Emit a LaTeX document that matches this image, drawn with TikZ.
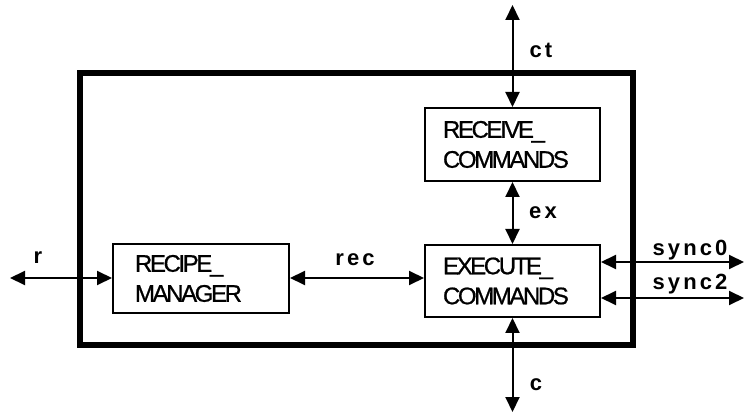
\documentclass[tikz,border=0pt]{standalone}
\usepackage{fontspec}
\setmainfont{Liberation Sans}
\newfontfamily\labelfont[LetterSpace=14]{Liberation Sans}
\newfontfamily\boxfont[LetterSpace=-10,FakeBold=0.8]{Liberation Sans}
\usetikzlibrary{arrows.meta}
\tikzset{
  blockbox/.style={draw, line width=2pt, text width=139pt, inner xsep=18pt, inner ysep=0pt,
    align=left, font=\boxfont\fontsize{24}{30}\selectfont},
  outerbox/.style={draw, line width=6pt},
  conn/.style={line width=2pt, {Triangle[length=15pt,width=14pt]}-{Triangle[length=15pt,width=14pt]}},
  lbl/.style={font=\labelfont\bfseries\fontsize{22}{26}\selectfont, inner sep=0pt}
}
\begin{document}
\begin{tikzpicture}[x=1pt,y=-1pt]
\useasboundingbox (0,0) rectangle (745,414);
\draw[outerbox] (80,73) rectangle (633,345);
\node[blockbox, minimum height=73pt] (recv) at (512.5,144.5) {RECEIVE\_\\COMMANDS};
\node[blockbox, minimum height=72pt] (exec) at (512.5,281) {EXECUTE\_\\COMMANDS};
\node[blockbox, minimum height=69pt, text width=132pt, inner xsep=22pt] (recipe) at (201,278.5) {RECIPE\_\\MANAGER};
\coordinate (ctend) at (512.5,5);
\coordinate (cend) at (512.5,412);
\coordinate (rend) at (10,278);
\coordinate (s0end) at (744,262);
\coordinate (s2end) at (744,298);
\draw[conn] (ctend) -- (recv.north);
\draw[conn] (recv.south) -- (exec.north);
\draw[conn] (exec.south) -- (cend);
\draw[conn] (rend) -- (rend -| recipe.west);
\draw[conn] (rend -| recipe.east) -- (rend -| exec.west);
\draw[conn] (s0end -| exec.east) -- (s0end);
\draw[conn] (s2end -| exec.east) -- (s2end);
\node[lbl] (lct) at (541,50) {ct};
\node[lbl] (lex) at (543,213) {ex};
\node[lbl] (lrec) at (355,260) {rec};
\node[lbl] (lr) at (38,258) {r};
\node[lbl] (ls0) at (690,250) {sync0};
\node[lbl] (ls2) at (690,284) {sync2};
\node[lbl] (lc) at (536,385) {c};
\end{tikzpicture}
\end{document}
